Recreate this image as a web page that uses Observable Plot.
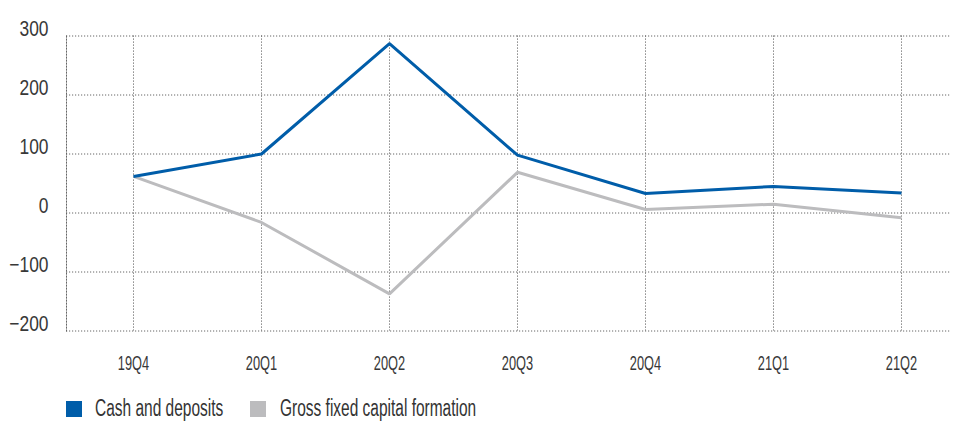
<!DOCTYPE html>
<html>
<head>
<meta charset="utf-8">
<script src="https://cdn.jsdelivr.net/npm/d3@7"></script>
<script src="https://cdn.jsdelivr.net/npm/@observablehq/plot@0.6"></script>
<style>
  html, body { margin: 0; padding: 0; background: #fff; }
  body { width: 953px; height: 421px; overflow: hidden; font-family: "Liberation Sans", Arial, sans-serif; }
  #chart svg, #legend svg { display: block; }
</style>
</head>
<body>
<div id="chart"></div>
<div id="legend"></div>
<script>
const quarters = ["19Q4", "20Q1", "20Q2", "20Q3", "20Q4", "21Q1", "21Q2"];
const cashDeposits = [62, 100, 287, 98, 33, 45, 34];
const grossFixedCapital = [62, -16, -137, 69, 6, 15, -8];
const seriesNames = ["Cash and deposits", "Gross fixed capital formation"];
const seriesColors = ["#005DA9", "#BCBCBE"];
const yTicks = [-200, -100, 0, 100, 200, 300];

const rows = [];
quarters.forEach((q, i) => {
  rows.push({quarter: q, series: seriesNames[1], value: grossFixedCapital[i]});
});
quarters.forEach((q, i) => {
  rows.push({quarter: q, series: seriesNames[0], value: cashDeposits[i]});
});

const gridStyle = {stroke: "#666", strokeOpacity: 1, strokeWidth: 1, strokeDasharray: "1.2,1.8"};

const chart = Plot.plot({
  width: 953,
  height: 386,
  marginLeft: 66,
  marginRight: 3,
  marginTop: 35.5,
  marginBottom: 55.5,
  style: {fontFamily: "'Liberation Sans', Arial, sans-serif", color: "#333", background: "#fff"},
  x: {type: "point", domain: quarters, range: [131, 903], padding: 0},
  y: {domain: [-200, 300]},
  color: {domain: seriesNames, range: seriesColors},
  marks: [
    Plot.gridY(yTicks, gridStyle),
    Plot.gridX(quarters, gridStyle),
    Plot.frame({anchor: "left", ...gridStyle}),
    Plot.axisY(yTicks, {tickSize: 0, tickPadding: 18, fontSize: 22, lineAnchor: "bottom", label: null, fill: "#383838"}),
    Plot.axisX(quarters, {tickSize: 0, tickPadding: 25, fontSize: 20, label: null, fill: "#383838"}),
    Plot.lineY(rows, {x: "quarter", y: "value", z: "series", stroke: "series", strokeWidth: 3, strokeLinejoin: "miter", strokeLinecap: "butt"})
  ]
});
document.getElementById("chart").appendChild(chart);

// condense text to mimic the narrow typeface of the reference
function condense(nodes, ratio) {
  nodes.forEach(t => {
    const len = t.getComputedTextLength();
    if (len > 0) {
      t.setAttribute("textLength", (len * ratio).toFixed(2));
      t.setAttribute("lengthAdjust", "spacingAndGlyphs");
    }
  });
}
condense(chart.querySelectorAll('g[aria-label="y-axis tick label"] text'), 0.79);
condense(chart.querySelectorAll('g[aria-label="x-axis tick label"] text'), 0.64);

// legend
const swatchLeft = [66, 250];
const labelLeft = [95, 280];
const legendSvg = d3.select("#legend").append("svg")
  .attr("width", 953).attr("height", 35)
  .style("font-family", "'Liberation Sans', Arial, sans-serif");
const items = legendSvg.selectAll("g").data(seriesNames).join("g");
items.append("rect")
  .attr("x", (d, i) => swatchLeft[i]).attr("y", 15)
  .attr("width", 16).attr("height", 16)
  .attr("fill", (d, i) => seriesColors[i]);
items.append("text")
  .attr("x", (d, i) => labelLeft[i]).attr("y", 29.5)
  .attr("font-size", 23).attr("fill", "#333")
  .text(d => d);
condense(legendSvg.selectAll("text").nodes(), 0.673);
</script>
</body>
</html>
